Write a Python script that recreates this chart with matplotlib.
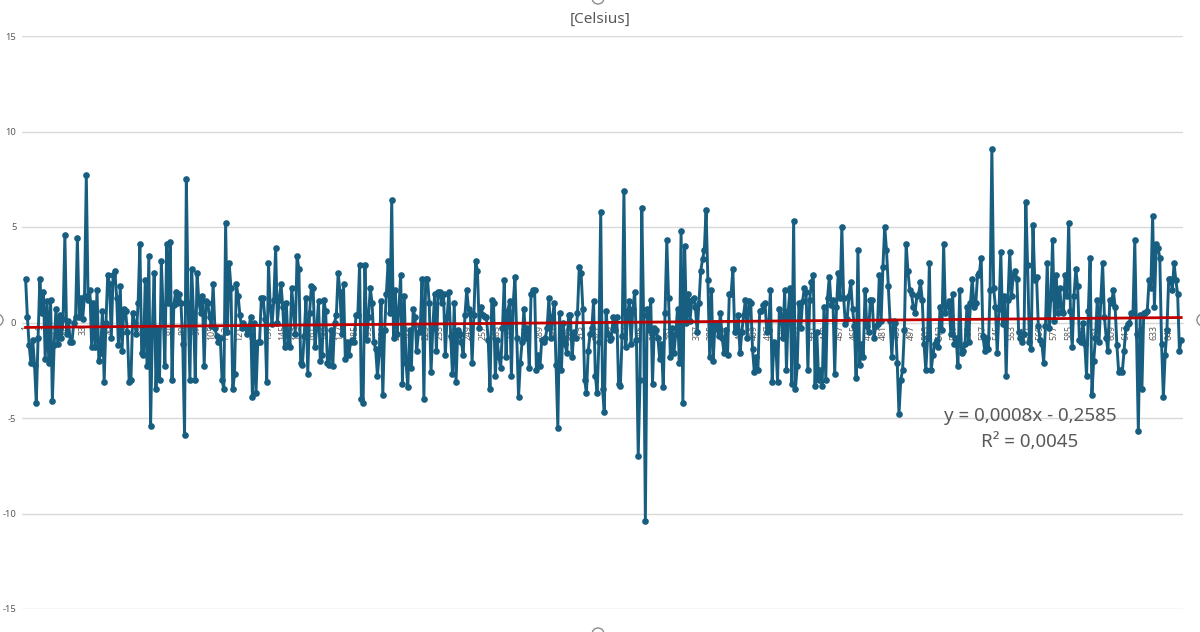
import matplotlib
matplotlib.use("Agg")
import matplotlib.pyplot as plt
from matplotlib.patches import Circle
import numpy as np

title = "[Celsius]"

# Series values (648 categories)
values = [
    # 1-42
    2.3, 0.3, -1.2, -2.1, -0.9, -2.2, -4.2, -0.8, 2.3, 0.5,
    1.6, -1.9, 1.1, -2.1, 1.2, -4.1, -1.2, 0.7, -1.1, 0.4,
    -0.8, 0.2, 4.6, -0.6, 0.1, -1.0, -1.0, 0.0, 0.3, 4.4,
    0.3, 1.3, 0.2, 1.4, 7.7, 1.2, 1.7, -1.3, 1.0, -1.3,
    1.7, -2.0,
    # 43-95
    -1.6, 0.6, -3.1, 0.0, 2.5, 2.0, -0.8, 2.5, 2.7, 1.3,
    -1.2, 1.9, -1.5, 0.7, 0.6, -0.5, -3.1, -3.0, 0.5, 0.0,
    -0.6, 1.0, 4.1, -1.6, -1.7, 2.2, -2.3, 3.5, -5.4, -0.3,
    2.6, -3.5, -0.3, -3.0, 3.2, 0.6, -2.3, 4.1, 1.0, 4.2,
    -3.0, 0.9, 1.6, 1.0, 1.5, 1.0, -1.1, -5.9, 7.5, 1.0,
    -3.0, 2.8, 0.5,
    # 96-146
    -3.0, 2.6, 1.1, 0.5, 1.4, -2.3, 1.1, 1.0, 0.3, -0.2,
    2.0, -0.3, -0.7, -1.0, -0.8, -3.0, -3.5, 5.2, -0.5, 3.1,
    1.8, -3.5, -2.7, 2.0, 1.4, 0.4, -0.3, 0.0, -0.2, -0.6,
    -0.3, 0.3, -3.9, 0.0, -3.7, -1.0, -1.0, 1.3, 1.3, 0.2,
    -3.1, 3.1, 0.8, -0.1, 1.2, 3.9, 0.0, 1.2, 2.0, 0.8,
    -1.3,
    # 147-207
    1.0, -1.1, -1.3, 1.8, 0.6, -0.6, 3.5, 2.8, -2.1, -2.2,
    -0.7, 1.3, -2.7, 0.5, 1.9, 1.8, -1.3, -0.3, 1.1, -2.0,
    -1.7, 1.2, 0.6, -2.1, -2.2, -0.4, -2.3, 0.0, 0.4, 2.6,
    1.6, -0.6, 2.0, -1.9, -1.0, -1.7, -1.0, -0.9, -1.0, 0.4,
    0.4, 3.0, -4.0, -4.2, 3.0, -0.9, 0.3, 1.8, 1.0, -1.0,
    -1.4, -2.8, -1.6, 1.1, -3.8, -0.4, 1.5, 3.2, 0.5, 6.4,
    -0.8,
    # 208-269
    1.7, -0.6, 0.7, 2.5, -3.2, 1.4, -2.1, -3.4, -0.4, -2.4,
    0.7, 0.3, -1.5, -0.5, -0.2, 2.3, -4.0, 2.3, 2.3, 1.0,
    -2.6, -0.3, 1.5, -1.5, 1.6, 1.6, 1.0, 1.5, -1.7, 0.3,
    1.6, -0.7, -2.7, 1.0, -3.1, -0.4, -0.6, -1.0, -1.7, 0.4,
    1.7, 0.7, 0.5, -2.1, 0.4, 3.2, 2.7, -0.3, 0.8, 0.4,
    0.3, 0.3, -0.9, -3.5, 1.2, 1.0, -2.8, -0.9, -1.8, -2.4,
    -0.3, 2.2,
    # 270-331
    -1.8, 0.6, 1.1, -2.8, 1.0, 2.4, -0.8, -3.9, -2.1, -1.0,
    0.7, -0.8, -0.3, -2.4, 1.5, 1.7, 1.7, -2.5, -1.7, -2.3,
    -0.9, -1.0, -0.8, -0.3, 1.3, -0.8, 0.3, 1.0, -2.2, -5.5,
    0.5, -2.5, 0.0, -1.1, -1.6, 0.4, 0.4, -1.8, -0.5, -0.8,
    0.5, 2.9, 2.6, 0.7, -3.0, -3.7, -1.5, -0.6, -0.3, 1.1,
    -2.8, -3.7, -1.0, 5.8, -3.5, -4.7, 0.6, -0.6, -0.9, -0.8,
    0.3, -0.4,
    # 332-392
    0.3, -3.2, -3.3, -0.7, 6.9, -1.3, 0.4, 1.1, -1.1, 0.7,
    1.6, -0.9, -7.0, -3.0, 6.0, 0.4, -10.4, 0.7, -0.4, 1.2,
    -3.2, -0.3, -0.4, -0.8, -1.9, -1.1, -3.4, 0.5, 4.3, 1.3,
    -1.8, -0.3, -1.6, -0.6, 0.7, -2.1, 4.8, -4.2, 4.0, 0.0,
    1.5, 0.1, 1.2, 1.3, 0.8, -0.5, 1.0, 2.7, 3.3, 3.8,
    5.9, 2.2, -1.8, 1.7, -2.0, 0.0, -0.3, -0.7, 0.5, -0.8,
    -1.6,
    # 393-454
    -0.4, -1.7, 1.5, 1.5, 2.8, -0.5, -0.4, 0.4, -1.6, -0.5,
    0.4, 1.2, -0.8, 1.1, 1.0, -1.4, -2.6, -1.8, -2.5, 0.6,
    0.6, 0.9, 1.0, -0.5, -0.4, 1.7, -3.1, -1.0, -1.1, -3.1,
    0.7, 0.4, -0.8, 1.7, -2.5, 0.6, 1.8, -3.2, 5.3, -3.5,
    -2.3, 1.0, -0.3, 1.1, 1.8, 1.6, -2.5, 1.2, 2.1, 2.5,
    -3.3, -0.5, -3.0, -2.5, -3.3, 0.8, -3.0, 1.3, 2.4, 0.9,
    1.2, -2.7,
    # 455-515
    0.8, 2.6, 1.3, 5.0, 1.3, -0.1, 0.2, 1.4, 2.1, 0.7,
    -0.2, -2.9, 3.8, -2.2, -1.1, -1.8, 1.7, -0.2, -0.5, 1.2,
    1.2, -0.8, -0.2, -0.1, 2.5, 0.1, 2.9, 5.0, 3.8, 1.9,
    0.1, -1.8, 0.1, 0.0, -2.1, -4.8, -3.0, -2.5, -0.4, 4.1,
    2.7, 1.7, 1.5, 0.8, 0.5, 1.4, 1.5, 2.1, 1.2, -1.1,
    -2.5, -0.8, 3.1, -2.5, -1.7, -1.1, -0.9, -1.3, 0.8, -0.4,
    4.1,
    # 516-577
    0.5, 0.9, 1.1, -0.6, 1.5, -1.1, -0.8, -2.3, 1.7, -1.6,
    -1.5, -1.1, 0.8, -1.0, 1.0, 2.3, 0.8, 1.0, 2.5, 2.6,
    3.4, -0.7, -1.5, -0.8, -1.4, 1.7, 9.1, 1.8, 0.8, -1.6,
    0.7, 3.7, -0.1, 1.4, -2.8, 1.2, 3.7, 1.4, 2.5, 2.7,
    2.3, -0.5, -0.8, -1.0, -0.6, 6.3, 3.0, -1.0, -1.4, 5.1,
    2.2, 2.4, -0.2, -0.9, -1.1, -2.1, -0.2, 3.1, -0.3, 1.3,
    4.3, 0.1,
    # 578-648
    2.5, 0.5, 1.8, 0.6, 0.5, 2.5, 1.4, 5.2, 0.6, -1.3,
    1.4, 2.8, 1.9, -0.9, -1.0, 0.0, -1.1, -2.8, 0.6, 3.4,
    -3.8, -2.0, -0.8, 1.2, -1.0, 1.2, 3.1, 0.3, -0.8, -1.5,
    1.2, 1.0, 1.7, 0.8, -1.2, -2.6, -2.5, -2.6, -1.5, -0.3,
    -0.1, 0.0, 0.5, 0.5, 4.3, -0.6, -5.7, 0.4, -3.5, 0.5,
    0.5, 0.6, 2.2, 1.8, 5.6, 0.8, 4.1, 3.9, 3.4, -1.1,
    -3.9, -1.7, -0.4, 2.3, 2.3, 1.7, 3.1, 2.2, 1.5, -1.5,
    -0.9,
]

categories = list(range(1, len(values) + 1))
xtick_positions = categories[::8]
xtick_labels = [str(c) for c in xtick_positions]
y_ticks = [-15, -10, -5, 0, 5, 10, 15]
y_tick_labels = ["-15", "-10", "-5", "0", "5", "10", "15"]

trend_slope = 0.0008
trend_intercept = -0.2585
eq_text = "y = 0,0008x - 0,2585"
r2_text = "R\u00b2 = 0,0045"

SERIES = "#175E80"
TREND = "#C00000"
TEXT = "#595959"
GRID = "#D9D9D9"
FONT = ["Noto Sans", "DejaVu Sans"]

W, H = 1200, 632
fig = plt.figure(figsize=(W / 100, H / 100), dpi=100)
fig.patch.set_facecolor("white")
ax = fig.add_axes([22 / W, 1 - 609 / H, (1183 - 22) / W, (609 - 36) / H])
n = len(values)
ax.set_xlim(-1.0, n + 1.0)
ax.set_ylim(-15, 15)

ax.set_yticks(y_ticks)
ax.set_yticklabels(y_tick_labels, fontsize=6.8, color=TEXT, family=FONT)
ax.yaxis.grid(True, color=GRID, lw=1.0)
ax.set_axisbelow(True)
for s in ["top", "right", "left"]:
    ax.spines[s].set_visible(False)
ax.spines["bottom"].set_position(("data", 0))
ax.spines["bottom"].set_color(GRID)

ax.set_xticks(xtick_positions)
ax.set_xticklabels(xtick_labels, rotation=90, fontsize=6.3, color=TEXT,
                   family=FONT, va="top", ha="center")
ax.tick_params(axis="x", length=0, pad=2)
ax.tick_params(axis="y", length=0, pad=4)

ax.plot(categories, values, color=SERIES, lw=2.1, marker="o", ms=4.8,
        markeredgewidth=0, zorder=3, clip_on=False)

tx = np.array([categories[0], categories[-1]], dtype=float)
ax.plot(tx, trend_slope * tx + trend_intercept, color=TREND, lw=2.0, zorder=4)

fig.text(600 / W, 1 - 19 / H, title, ha="center", va="center",
         fontsize=11, color=TEXT, family=FONT)
fig.text(1030 / W, 1 - 416 / H, eq_text, ha="center", va="center",
         fontsize=13.5, color=TEXT, family=FONT)
fig.text(1030 / W, 1 - 442 / H, r2_text, ha="center", va="center",
         fontsize=13.5, color=TEXT, family=FONT)

# selection handles at the chart edges
for cx, cy in [(598, -2), (-3, 320), (1203, 320), (598, 634)]:
    fig.add_artist(Circle((cx, H - cy), 6, transform=None, facecolor="white",
                          edgecolor="#8C8C8C", lw=1.0, zorder=10))

fig.savefig("out.png", dpi=100)
